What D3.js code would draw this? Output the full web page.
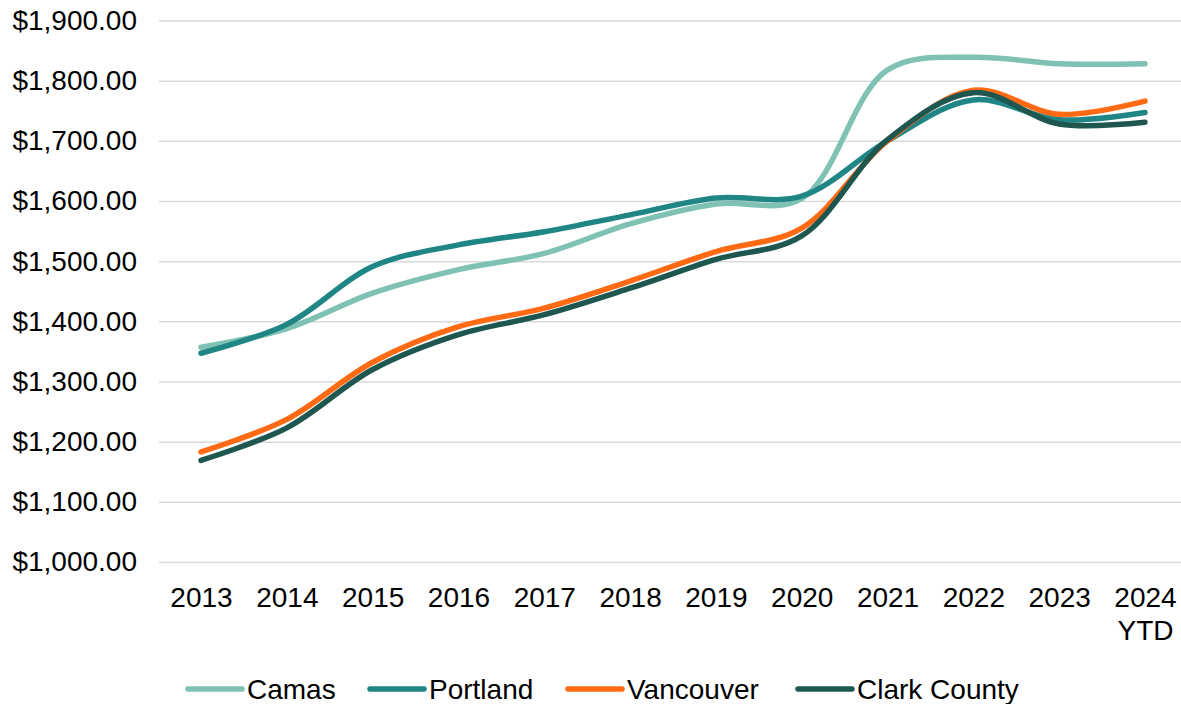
<!DOCTYPE html>
<html>
<head>
<meta charset="utf-8">
<script src="https://cdn.jsdelivr.net/npm/d3@7"></script>
<style>
  body { margin: 0; background: #fff; }
  svg { display: block; font-family: "Liberation Sans", Arial, sans-serif; }
</style>
</head>
<body>
<div id="chart"></div>
<script>
var years = ["2013", "2014", "2015", "2016", "2017", "2018", "2019", "2020", "2021", "2022", "2023", "2024"];
var yearLabels = ["2013", "2014", "2015", "2016", "2017", "2018", "2019", "2020", "2021", "2022", "2023", "2024|YTD"];

var camas      = [1357, 1388, 1447, 1486, 1513, 1562, 1595, 1604, 1818, 1839, 1828, 1828];
var portland   = [1347, 1395, 1491, 1527, 1549, 1577, 1605, 1608, 1700, 1768, 1735, 1747];
var vancouver  = [1183, 1237, 1332, 1391, 1422, 1467, 1516, 1555, 1700, 1784, 1744, 1766];
var clarkCounty= [1169, 1223, 1320, 1378, 1411, 1455, 1503, 1542, 1702, 1780, 1728, 1731];

var seriesNames  = ["Camas", "Portland", "Vancouver", "Clark County"];
var seriesColors = ["#7fc1b3", "#1f8585", "#ff6a13", "#1e5650"];
var seriesValues = [camas, portland, vancouver, clarkCounty];

var yTicks = [1000, 1100, 1200, 1300, 1400, 1500, 1600, 1700, 1800, 1900];

var width = 1181, height = 704;
var svg = d3.select("#chart").append("svg")
  .attr("width", width)
  .attr("height", height);

var x = d3.scalePoint().domain(years).range([201, 1145]);
var y = d3.scaleLinear().domain([1000, 1900]).range([562, 20.5]);

var gridLeft = 159, gridRight = 1181;

// y axis + gridlines
var yAxis = svg.append("g")
  .attr("transform", "translate(" + gridLeft + ",0)")
  .call(d3.axisLeft(y)
    .tickValues(yTicks)
    .tickFormat(d3.format("$,.2f"))
    .tickSize(-(gridRight - gridLeft))
    .tickPadding(22));
yAxis.select(".domain").remove();
yAxis.selectAll(".tick line").attr("stroke", "#d9d9d9").attr("stroke-width", 1.5);
yAxis.selectAll(".tick text")
  .attr("fill", "#000")
  .style("font-size", "28px")
  .style("font-family", "'Liberation Sans', Arial, sans-serif");

// x axis
var xAxis = svg.append("g")
  .attr("transform", "translate(0,562)")
  .call(d3.axisBottom(x).tickSize(0).tickPadding(25)
    .tickFormat(function(d, i) { return ""; }));
xAxis.select(".domain").remove();
xAxis.selectAll(".tick text").each(function(d, i) {
  var parts = yearLabels[i].split("|");
  var t = d3.select(this)
    .attr("fill", "#000")
    .style("font-size", "28px")
    .style("font-family", "'Liberation Sans', Arial, sans-serif");
  parts.forEach(function(p, j) {
    t.append("tspan")
      .attr("x", 0)
      .attr("dy", j == 0 ? "0.71em" : "1.2em")
      .text(p);
  });
});

// lines
var line = d3.line()
  .x(function(d, i) { return x(years[i]); })
  .y(function(d) { return y(d); })
  .curve(d3.curveCatmullRom.alpha(0.5));

svg.append("g")
  .selectAll("path")
  .data(seriesValues)
  .enter()
  .append("path")
  .attr("d", line)
  .attr("fill", "none")
  .attr("stroke", function(d, i) { return seriesColors[i]; })
  .attr("stroke-width", 5.5)
  .attr("stroke-linecap", "round")
  .attr("stroke-linejoin", "round");

// legend
var legendX = [188, 370, 568, 798];
var legend = svg.append("g")
  .selectAll(".leg")
  .data(seriesNames)
  .enter().append("g")
  .attr("class", "leg")
  .attr("transform", function(d, i) { return "translate(" + legendX[i] + ",689)"; });

legend.append("line")
  .attr("x1", 0)
  .attr("x2", 54)
  .attr("y1", 0)
  .attr("y2", 0)
  .attr("stroke", function(d, i) { return seriesColors[i]; })
  .attr("stroke-width", 5.5)
  .attr("stroke-linecap", "round");

legend.append("text")
  .attr("x", 59)
  .attr("dy", "0.36em")
  .style("font-size", "28px")
  .attr("fill", "#000")
  .text(function(d) { return d; });
</script>
</body>
</html>
